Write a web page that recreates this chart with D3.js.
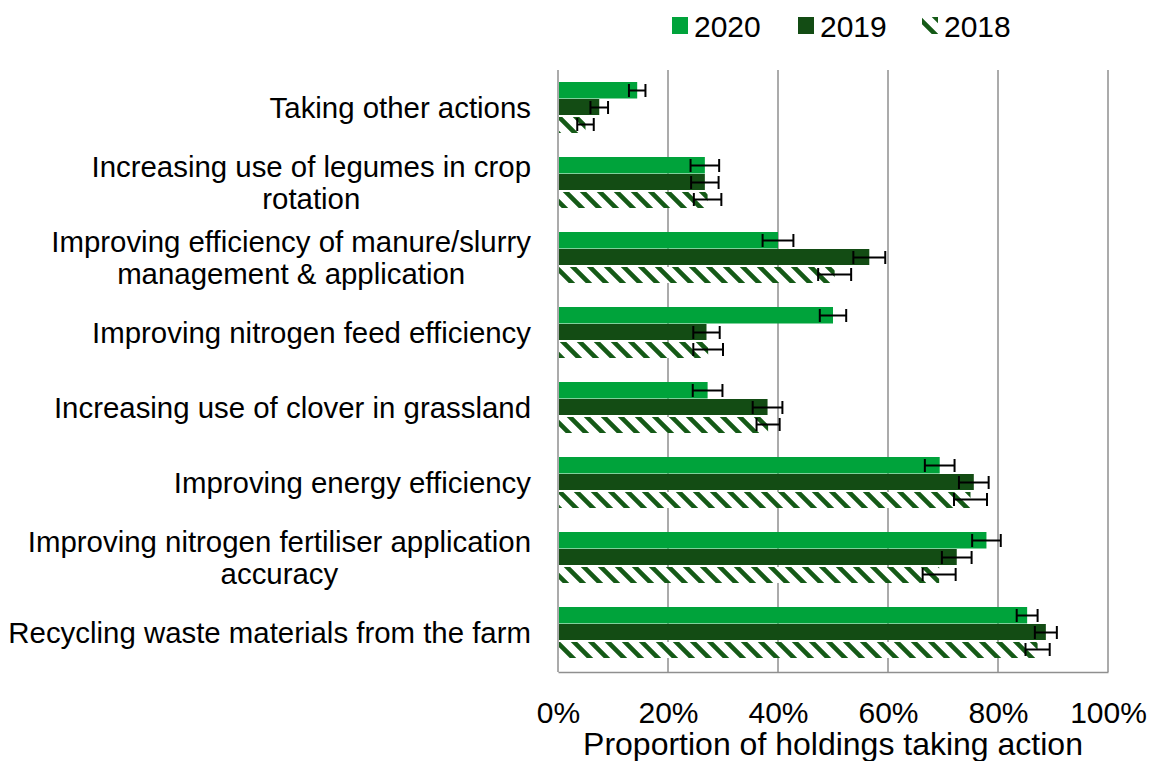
<!DOCTYPE html>
<html>
<head>
<meta charset="utf-8">
<script src="https://cdn.jsdelivr.net/npm/d3@7"></script>
<style>
  html, body { margin: 0; padding: 0; background: #fff; }
  svg { display: block; font-family: "Liberation Sans", Arial, sans-serif; }
</style>
</head>
<body>
<svg id="chart" width="1154" height="761"></svg>
<script>
const categories = [
  ["Taking other actions"],
  ["Increasing use of legumes in crop", "rotation"],
  ["Improving efficiency of manure/slurry", "management & application"],
  ["Improving nitrogen feed efficiency"],
  ["Increasing use of clover in grassland"],
  ["Improving energy efficiency"],
  ["Improving nitrogen fertiliser application", "accuracy"],
  ["Recycling waste materials from the farm"]
];
const seriesNames = ["2020", "2019", "2018"];
const values2020 = [14.4, 26.7, 40.0, 50.0, 27.2, 69.4, 77.9, 85.3];
const values2019 = [7.5, 26.7, 56.6, 27.0, 38.1, 75.6, 72.5, 88.7];
const values2018 = [5.0, 27.2, 50.3, 27.3, 38.2, 75.0, 69.3, 87.2];
const err2020 = [1.5, 2.6, 2.8, 2.4, 2.7, 2.7, 2.6, 1.9];
const err2019 = [1.6, 2.5, 2.9, 2.4, 2.7, 2.7, 2.7, 2.0];
const err2018 = [1.5, 2.5, 3.0, 2.7, 2.1, 3.0, 3.0, 2.2];
const tickValues = [0, 20, 40, 60, 80, 100];
const xAxisTitle = "Proportion of holdings taking action";

const seriesValues = [values2020, values2019, values2018];
const seriesErrors = [err2020, err2019, err2018];

const svg = d3.select("#chart");
const C2020 = "#00a33b", C2019 = "#134c14", CHATCH = "#155a17";

// hatch pattern
const defs = svg.append("defs");
const pat = defs.append("pattern").attr("id", "hatch")
  .attr("patternUnits", "userSpaceOnUse")
  .attr("width", 17).attr("height", 17);
pat.append("rect").attr("width", 17).attr("height", 17).attr("fill", "#fff");
pat.append("path")
  .attr("d", "M-5,-5 L22,22 M-5,12 L5,22 M12,-5 L22,5")
  .attr("stroke", CHATCH).attr("stroke-width", 4.6);

const fills = [C2020, C2019, "url(#hatch)"];

const pLeft = 558, pRight = 1108, pTop = 70, pBottom = 672;
const x = d3.scaleLinear().domain([0, 100]).range([pLeft, pRight]);
const y = d3.scaleBand().domain(d3.range(categories.length))
  .range([pTop, pBottom - 2]).paddingInner(0.32).paddingOuter(0.16);
const ySub = d3.scaleBand().domain(seriesNames).range([0, y.bandwidth()]);

// gridlines
svg.append("g").selectAll("line").data(tickValues).join("line")
  .attr("x1", d => x(d)).attr("x2", d => x(d))
  .attr("y1", pTop).attr("y2", pBottom)
  .attr("stroke", "#8f8f8f").attr("stroke-width", 1.5);

// bottom axis
const xAxis = d3.axisBottom(x).tickValues(tickValues).tickFormat(d => d + "%").tickSize(0).tickPadding(0);
const axG = svg.append("g").attr("transform", `translate(0,${pBottom})`).call(xAxis);
axG.select(".domain").attr("stroke", "#8f8f8f").attr("stroke-width", 1.5);
axG.selectAll("text").attr("font-size", 30).attr("fill", "#000")
  .attr("font-family", "Liberation Sans, Arial, sans-serif")
  .attr("dy", null).attr("y", 51);

// axis title
svg.append("text").attr("x", (pLeft + pRight) / 2).attr("y", 755)
  .attr("text-anchor", "middle").attr("font-size", 32).attr("fill", "#000")
  .text(xAxisTitle);

// bars
const barData = [];
seriesNames.forEach((s, si) => {
  categories.forEach((c, ci) => {
    barData.push({ s, si, ci, v: seriesValues[si][ci], e: seriesErrors[si][ci] });
  });
});
const barsG = svg.append("g");
barsG.selectAll("rect").data(barData).join("rect")
  .attr("x", x(0) + 1)
  .attr("y", d => y(d.ci) + ySub(d.s) + (d.si === 2 ? 1 : 0))
  .attr("width", d => x(d.v) - x(0) - 1)
  .attr("height", d => ySub.bandwidth() - (d.si === 0 ? 0.5 : 1))
  .attr("fill", d => fills[d.si]);

// error bars
const errG = svg.append("g").attr("stroke", "#000").attr("stroke-width", 2);
barData.forEach(d => {
  const cy = y(d.ci) + ySub(d.s) + ySub.bandwidth() / 2;
  const x1 = x(d.v - d.e), x2 = x(d.v + d.e);
  errG.append("line").attr("x1", x1).attr("x2", x2).attr("y1", cy).attr("y2", cy);
  errG.append("line").attr("x1", x1).attr("x2", x1).attr("y1", cy - 6.5).attr("y2", cy + 6.5);
  errG.append("line").attr("x1", x2).attr("x2", x2).attr("y1", cy - 6.5).attr("y2", cy + 6.5);
});

// category labels
const labelRight = 531;
categories.forEach((lines, ci) => {
  const cy = y(ci) + y.bandwidth() / 2;
  const g = svg.append("g");
  const texts = lines.map((t, li) => g.append("text")
    .attr("font-size", 29.4).attr("fill", "#000")
    .attr("y", cy + (li - (lines.length - 1) / 2) * 32)
    .attr("dominant-baseline", "central")
    .text(t));
  const maxW = d3.max(texts, t => t.node().getComputedTextLength());
  texts.forEach(t => t.attr("text-anchor", "middle").attr("x", labelRight - maxW / 2));
});

// legend
const legendItems = [
  { name: "2020", x: 672, fill: C2020 },
  { name: "2019", x: 798, fill: C2019 },
  { name: "2018", x: 922, fill: "url(#hatch)" }
];
const lg = svg.append("g");
legendItems.forEach(it => {
  lg.append("rect").attr("x", it.x).attr("y", 17).attr("width", 16).attr("height", 17).attr("fill", it.fill);
  lg.append("text").attr("x", it.x + 22).attr("y", 26).attr("dominant-baseline", "central")
    .attr("font-size", 30).attr("fill", "#000").text(it.name);
});
</script>
</body>
</html>
